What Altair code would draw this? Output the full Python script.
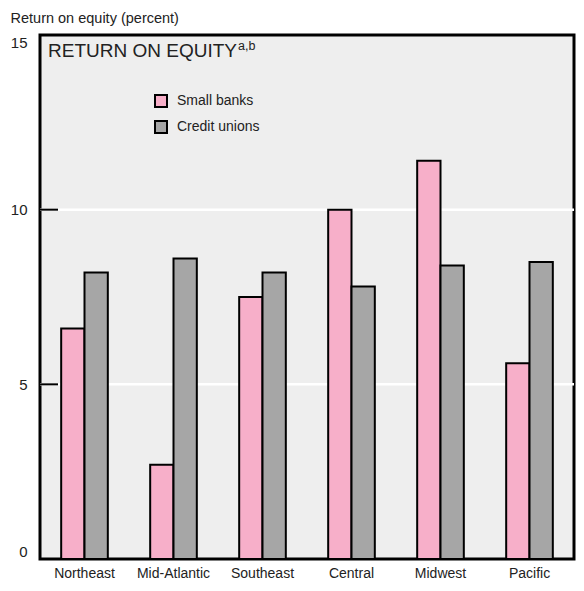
import altair as alt
import pandas as pd

regions = ["Northeast", "Mid-Atlantic", "Southeast", "Central", "Midwest", "Pacific"]
series = ["Small banks", "Credit unions"]
small_banks = [6.6, 2.7, 7.5, 10.0, 11.4, 5.6]
credit_unions = [8.2, 8.6, 8.2, 7.8, 8.4, 8.5]
y_ticks = [0, 5, 10, 15]
inner_ticks = [5, 10]
panel_title = "RETURN ON EQUITY"
panel_sup = "a,b"
axis_title = "Return on equity (percent)"

rows = []
for i, r in enumerate(regions):
    rows.append({"region": r, "series": series[0], "value": small_banks[i]})
    rows.append({"region": r, "series": series[1], "value": credit_unions[i]})
df = pd.DataFrame(rows)
grid_df = pd.DataFrame({"value": inner_ticks})
title_df = pd.DataFrame({"t": [panel_title], "s": [panel_sup]})

font = "Liberation Sans, Arial, sans-serif"
yscale = alt.Scale(domain=[0, 15], nice=False, zero=True)

yaxis = alt.Axis(
    values=y_ticks, title=axis_title, titleAngle=0, titleX=-30, titleY=-13,
    titleAlign="left", titleBaseline="alphabetic", titleFont=font,
    titleFontSize=14.5, titleFontWeight="normal", titleColor="#222",
    labelFont=font, labelFontSize=15, labelColor="#222", labelPadding=13,
    labelFlush=True, domain=False, ticks=False, grid=False,
)

grid = alt.Chart(grid_df).mark_rule(color="white", strokeWidth=2.5).encode(
    y=alt.Y("value:Q", scale=yscale, axis=yaxis)
)
ticks = alt.Chart(grid_df).mark_rule(color="black", strokeWidth=2).encode(
    y=alt.Y("value:Q"), x=alt.value(0), x2=alt.value(18)
)

bars = alt.Chart(df).mark_bar(stroke="black", strokeWidth=2).encode(
    x=alt.X("region:N", sort=regions,
            scale=alt.Scale(paddingInner=0.476, paddingOuter=0.238),
            axis=alt.Axis(title=None, labelAngle=0, domain=False, ticks=False,
                          labelPadding=7, labelFontSize=14, labelColor="#222",
                          labelFont=font)),
    xOffset=alt.XOffset("series:N", sort=series),
    y=alt.Y("value:Q"),
    color=alt.Color("series:N", sort=series,
                    scale=alt.Scale(domain=series, range=["#f7afc9", "#a6a6a6"]),
                    legend=alt.Legend(title=None, orient="none", legendX=114, legendY=59,
                                      symbolType="square", symbolSize=144,
                                      symbolStrokeColor="black", symbolStrokeWidth=2,
                                      labelFont=font, labelFontSize=14, labelColor="#222",
                                      labelOffset=9, rowPadding=6, padding=0)),
)

t1 = alt.Chart(title_df).mark_text(align="left", baseline="alphabetic", font=font,
                                   fontSize=19, color="#222").encode(
    x=alt.value(8), y=alt.value(22), text="t:N")
t2 = alt.Chart(title_df).mark_text(align="left", baseline="alphabetic", font=font,
                                   fontSize=12.5, color="#222").encode(
    x=alt.value(198), y=alt.value(15), text="s:N")

chart = alt.layer(grid, ticks, bars, t1, t2).properties(
    width=534, height=524,
    autosize=alt.AutoSizeParams(type="none"),
    padding={"left": 32, "top": 27, "right": 2, "bottom": 24},
).configure_view(fill="#eeeeee", stroke="black", strokeWidth=3)

chart.save("out.html", embed_options={"renderer": "svg", "actions": False})
